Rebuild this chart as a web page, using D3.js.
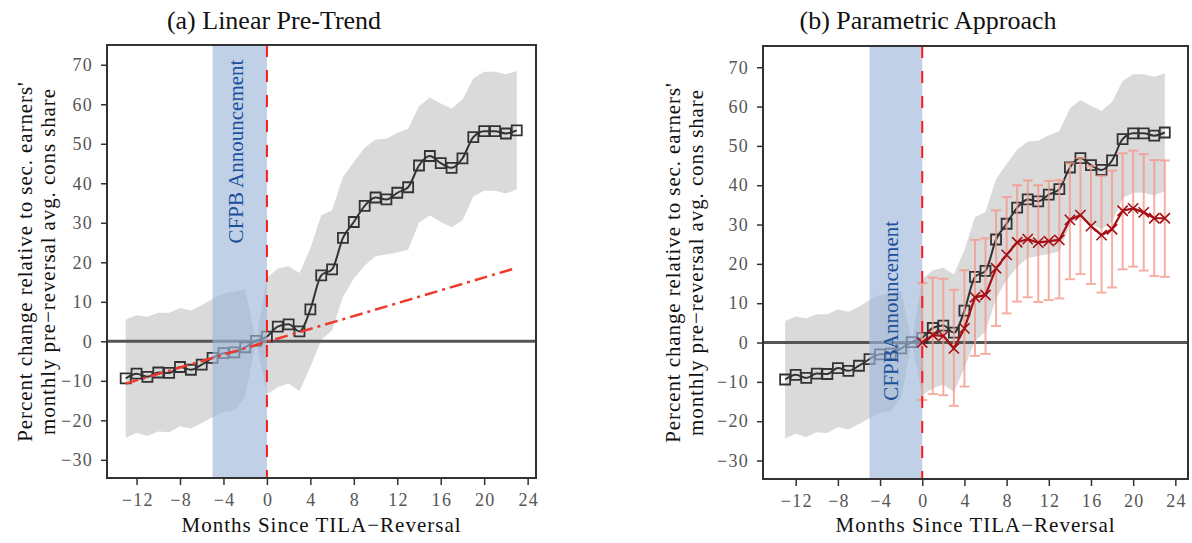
<!DOCTYPE html>
<html>
<head>
<meta charset="utf-8">
<script src="https://cdn.jsdelivr.net/npm/d3@7"></script>
<style>
  body { margin: 0; background: #fff; }
  svg { display: block; }
</style>
</head>
<body>
<svg id="chart" width="1192" height="543"></svg>
<script>
// event-study estimates, months relative to the TILA reversal
const months = [-13, -12, -11, -10, -9, -8, -7, -6, -5, -4, -3, -2, -1,
  0, 1, 2, 3, 4, 5, 6, 7, 8, 9, 10, 11, 12, 13, 14, 15, 16, 17, 18, 19, 20, 21, 22, 23]
const estimates = [-9.4, -8.2, -9.0, -7.9, -8.0, -6.5, -7.2, -5.9, -4.2, -3.0, -2.8, -1.5, 0.1,
  1.2, 3.7, 4.3, 2.5, 8.1, 16.7, 18.2, 26.2, 30.2, 34.3, 36.4, 35.9, 37.6, 39.0, 44.5, 46.9, 45.1, 43.9, 46.3, 51.7, 53.2, 53.2, 52.6, 53.4]
const ciUpper = [5.5, 6.6, 6.2, 7.2, 7.2, 8.4, 7.8, 9.1, 10.8, 12.1, 12.6, 13.1, 0.1,
  16.1, 18.4, 19.0, 17.3, 23.5, 31.9, 33.2, 41.6, 45.4, 49.0, 51.1, 51.3, 52.7, 53.8, 59.5, 61.7, 60.2, 58.9, 61.2, 66.5, 68.2, 68.2, 67.6, 68.4]
const ciLower = [-24.4, -23.2, -24.0, -22.8, -23.0, -21.5, -22.1, -20.7, -19.2, -17.9, -17.5, -14.1, 0.1,
  -13.4, -11.6, -10.7, -12.6, -6.5, 0.3, 2.8, 11.2, 15.9, 19.2, 21.5, 22.0, 22.5, 23.2, 30.0, 31.9, 30.2, 28.9, 30.6, 36.7, 38.1, 38.1, 37.4, 38.5]

// linear pre-trend (panel a)
const trendMonths = [-13, 23]
const trendValues = [-10.7, 18.6]

// parametric estimates (panel b)
const paramMonths = [0, 1, 2, 3, 4, 5, 6, 7, 8, 9, 10, 11, 12, 13, 14, 15, 16, 17, 18, 19, 20, 21, 22, 23]
const paramEstimates = [0.0, 1.9, 1.7, -1.5, 3.6, 11.5, 12.1, 18.9, 22.3, 25.5, 26.3, 25.4, 25.8, 26.1, 31.2, 32.4, 29.6, 27.3, 28.8, 33.5, 34.1, 33.1, 31.6, 31.6]
const paramUpper = [15.1, 16.5, 16.2, 13.4, 18.4, 26.1, 26.5, 33.6, 37.0, 40.0, 41.2, 40.0, 41.1, 41.3, 45.6, 46.9, 44.9, 42.4, 43.7, 48.1, 48.8, 47.9, 46.4, 46.3]
const paramLower = [-14.6, -13.1, -13.4, -16.1, -11.2, -3.4, -2.9, 4.2, 7.4, 10.4, 11.5, 10.3, 10.8, 11.2, 16.1, 17.4, 14.9, 12.7, 14.0, 18.6, 19.3, 18.3, 16.9, 16.7]

const xTicks = [-12, -8, -4, 0, 4, 8, 12, 16, 20, 24]
const yTicks = [-30, -20, -10, 0, 10, 20, 30, 40, 50, 60, 70]
const announceMonth = -5
const reversalMonth = 0

const xLabel = "Months Since TILA\u2212Reversal"
const yLabelLines = ["Percent change relative to sec. earners'", "monthly pre\u2212reversal avg. cons share"]

const panels = [
  { title: "(a) Linear Pre-Trend", titleX: 274, left: 107, right: 536, top: 45, bottom: 478,
    xDomain: [-14.72, 24.77], yDomain: [-34.6, 75.0], yLabelX: [32, 55],
    note: "CFPB Announcement", noteX: 243, noteY: 151.5, kind: "trend" },
  { title: "(b) Parametric Approach", titleX: 928, left: 763, right: 1188, top: 46, bottom: 479,
    xDomain: [-15.1, 25.2], yDomain: [-34.7, 75.4], yLabelX: [680, 703],
    note: "CFPBAnnouncement", noteX: 898, noteY: 310.8, kind: "param" }
]

const serif = "'Liberation Serif', 'Times New Roman', serif"

const svg = d3.select("#chart")

const rows = months.map((m, i) => ({ m: m, v: estimates[i], hi: ciUpper[i], lo: ciLower[i] }))
const prow = paramMonths.map((m, i) => ({ m: m, v: paramEstimates[i], hi: paramUpper[i], lo: paramLower[i] }))

panels.forEach(p => {
  const x = d3.scaleLinear().domain(p.xDomain).range([p.left, p.right])
  const y = d3.scaleLinear().domain(p.yDomain).range([p.bottom, p.top])
  const g = svg.append("g")

  // confidence band
  g.append("path")
    .datum(rows)
    .attr("fill", "#dadada")
    .attr("d", d3.area().x(d => x(d.m)).y0(d => y(d.lo)).y1(d => y(d.hi)))

  // zero line
  g.append("line")
    .attr("x1", p.left).attr("x2", p.right)
    .attr("y1", y(0)).attr("y2", y(0))
    .attr("stroke", "#555").attr("stroke-width", 3)

  // main estimates
  g.append("path")
    .datum(rows)
    .attr("fill", "none")
    .attr("stroke", "#333")
    .attr("stroke-width", 2)
    .attr("d", d3.line().x(d => x(d.m)).y(d => y(d.v)).curve(d3.curveMonotoneX))

  g.selectAll(".sq")
    .data(rows)
    .enter()
    .append("path")
    .attr("d", d3.symbol(d3.symbolSquare, 100))
    .attr("transform", d => "translate(" + x(d.m) + "," + y(d.v) + ")")
    .attr("fill", "none")
    .attr("stroke", "#333")
    .attr("stroke-width", 1.8)

  // announcement window
  g.append("rect")
    .attr("x", x(announceMonth))
    .attr("width", x(reversalMonth) - x(announceMonth))
    .attr("y", p.top).attr("height", p.bottom - p.top)
    .attr("fill", "#9db7da")
    .attr("opacity", 0.65)

  if (p.kind == "trend") {
    g.append("path")
      .datum(trendMonths.map((m, i) => [m, trendValues[i]]))
      .attr("fill", "none")
      .attr("stroke", "#ee3a2c")
      .attr("stroke-width", 2.5)
      .attr("stroke-dasharray", "13,5,3,5")
      .attr("d", d3.line().x(d => x(d[0])).y(d => y(d[1])))
  } else {
    // error bars
    const eb = g.selectAll(".eb").data(prow).enter().append("g")
      .attr("stroke", "#f59585").attr("stroke-width", 2).attr("opacity", 0.75)
    eb.append("line")
      .attr("x1", d => x(d.m)).attr("x2", d => x(d.m))
      .attr("y1", d => y(d.lo)).attr("y2", d => y(d.hi))
    eb.append("line")
      .attr("x1", d => x(d.m) - 5).attr("x2", d => x(d.m) + 5)
      .attr("y1", d => y(d.lo)).attr("y2", d => y(d.lo))
    eb.append("line")
      .attr("x1", d => x(d.m) - 5).attr("x2", d => x(d.m) + 5)
      .attr("y1", d => y(d.hi)).attr("y2", d => y(d.hi))

    g.append("path")
      .datum(prow)
      .attr("fill", "none")
      .attr("stroke", "#a50f15")
      .attr("stroke-width", 2.2)
      .attr("d", d3.line().x(d => x(d.m)).y(d => y(d.v)))

    g.selectAll(".xm")
      .data(prow)
      .enter()
      .append("path")
      .attr("d", d3.symbol(d3.symbolX, 70))
      .attr("transform", d => "translate(" + x(d.m) + "," + y(d.v) + ")")
      .attr("fill", "none")
      .attr("stroke", "#a50f15")
      .attr("stroke-width", 1.6)
  }

  // reversal line
  g.append("line")
    .attr("x1", x(reversalMonth)).attr("x2", x(reversalMonth))
    .attr("y1", p.top).attr("y2", p.bottom)
    .attr("stroke", "#ff1a1a").attr("stroke-width", 2)
    .attr("stroke-dasharray", "12,13")

  g.append("text")
    .attr("transform", "translate(" + p.noteX + "," + p.noteY + ") rotate(-90)")
    .attr("text-anchor", "middle")
    .style("font-family", serif)
    .style("font-size", "21px")
    .attr("fill", "#1a4f9c")
    .text(p.note)

  // frame
  g.append("rect")
    .attr("x", p.left).attr("y", p.top)
    .attr("width", p.right - p.left).attr("height", p.bottom - p.top)
    .attr("fill", "none").attr("stroke", "#333").attr("stroke-width", 2)

  // axes
  const xa = g.append("g")
    .attr("transform", "translate(0," + p.bottom + ")")
    .call(d3.axisBottom(x).tickValues(xTicks).tickSize(7).tickPadding(8))
  const ya = g.append("g")
    .attr("transform", "translate(" + p.left + ",0)")
    .call(d3.axisLeft(y).tickValues(yTicks).tickSize(6).tickPadding(8))
  ;[xa, ya].forEach(a => {
    a.select(".domain").remove()
    a.selectAll(".tick line").attr("stroke", "#333").attr("stroke-width", 1.5)
    a.selectAll(".tick text")
      .attr("fill", "#555")
      .style("font-family", serif)
      .style("font-size", "18px")
      .style("letter-spacing", "1.3px")
  })
  xa.selectAll(".tick text").attr("dx", "0.65px")

  g.append("text")
    .attr("x", (p.left + p.right) / 2).attr("y", 532)
    .attr("text-anchor", "middle")
    .style("font-family", serif).style("font-size", "21px")
    .style("letter-spacing", "1px")
    .attr("fill", "#111")
    .text(xLabel)

  yLabelLines.forEach((t, i) => {
    g.append("text")
      .attr("transform", "translate(" + p.yLabelX[i] + "," + ((p.top + p.bottom) / 2) + ") rotate(-90)")
      .attr("text-anchor", "middle")
      .style("font-family", serif).style("font-size", "21px")
      .style("letter-spacing", "0.9px")
      .attr("fill", "#111")
      .text(t)
  })

  g.append("text")
    .attr("x", p.titleX).attr("y", 29)
    .attr("text-anchor", "middle")
    .style("font-family", serif).style("font-size", "26px")
    .attr("fill", "#111")
    .text(p.title)
})
</script>
</body>
</html>
